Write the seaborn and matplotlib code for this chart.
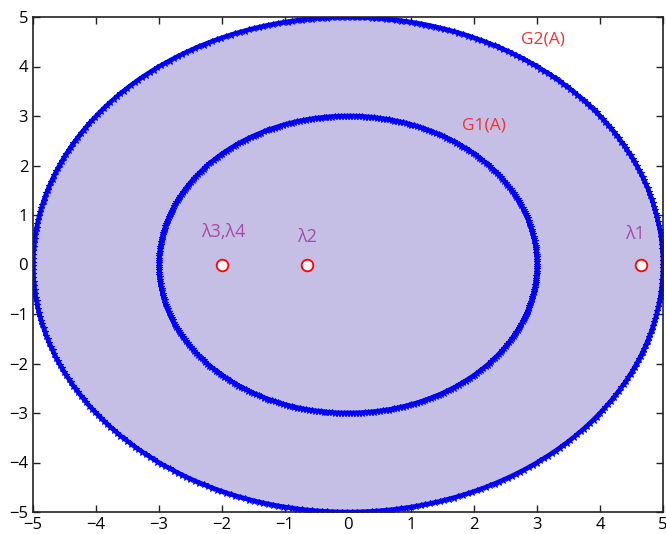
import numpy as np
import pandas as pd
import matplotlib
matplotlib.use("Agg")
import matplotlib.pyplot as plt
import seaborn as sns

# Data
radii = [5, 3]                      # G2(A), G1(A) disc radii (centre 0,0)
circle_labels = ["G2(A)", "G1(A)"]
label_pos = [(3.1, 4.55), (2.15, 2.8)]
eig_x = [4.65, -0.65, -2.0]
eig_y = [0.0, 0.0, 0.0]
eig_labels = ["λ1", "λ2", "λ3,λ4"]
eig_label_pos = [(4.55, 0.62), (-0.65, 0.55), (-1.98, 0.65)]

sns.set_theme(style="white")
plt.rcParams['font.family'] = ['Open Sans', 'DejaVu Sans']

fig = plt.figure(figsize=(6.66, 5.34), dpi=100)
ax = fig.add_axes([33/666, 1-512/534, 630/666, 495/534])

theta = np.linspace(0, 2*np.pi, 400)
rows = []
for r, name in zip(radii, circle_labels):
    for t in theta:
        rows.append({"x": r*np.cos(t), "y": r*np.sin(t), "c": name})
df = pd.DataFrame(rows)

outer = df[df.c == "G2(A)"]
ax.fill(outer.x, outer.y, color="#c5bfe6", zorder=1)

sns.lineplot(data=df, x="x", y="y", units="c", estimator=None, sort=False,
             color="#0000ff", lw=3.2, marker="*", markersize=5,
             markeredgecolor="#0000ff", ax=ax, zorder=2)

sns.scatterplot(x=eig_x, y=eig_y, s=70, color="white", edgecolor="#ff0000",
                linewidth=1.3, ax=ax, zorder=4)

for lab, (lx, ly) in zip(eig_labels, eig_label_pos):
    ax.text(lx, ly, lab, color="#a64ca6", fontsize=13, ha="center", va="center", zorder=5)
for lab, (lx, ly) in zip(circle_labels, label_pos):
    ax.text(lx, ly, lab, color="#ee3333", fontsize=12.5, ha="center", va="center", zorder=5)

ax.set_xlim(-5, 5)
ax.set_ylim(-5, 5)
ax.set_xticks(range(-5, 6))
ax.set_yticks(range(-5, 6))
ax.set_xlabel("")
ax.set_ylabel("")
ax.tick_params(direction="in", length=5, width=1, colors="#222222",
               labelsize=12, top=True, right=True, bottom=True, left=True,
               labelcolor="black")
for s in ax.spines.values():
    s.set_color("#222222")
    s.set_linewidth(1.2)

fig.savefig("out.png", dpi=100)
